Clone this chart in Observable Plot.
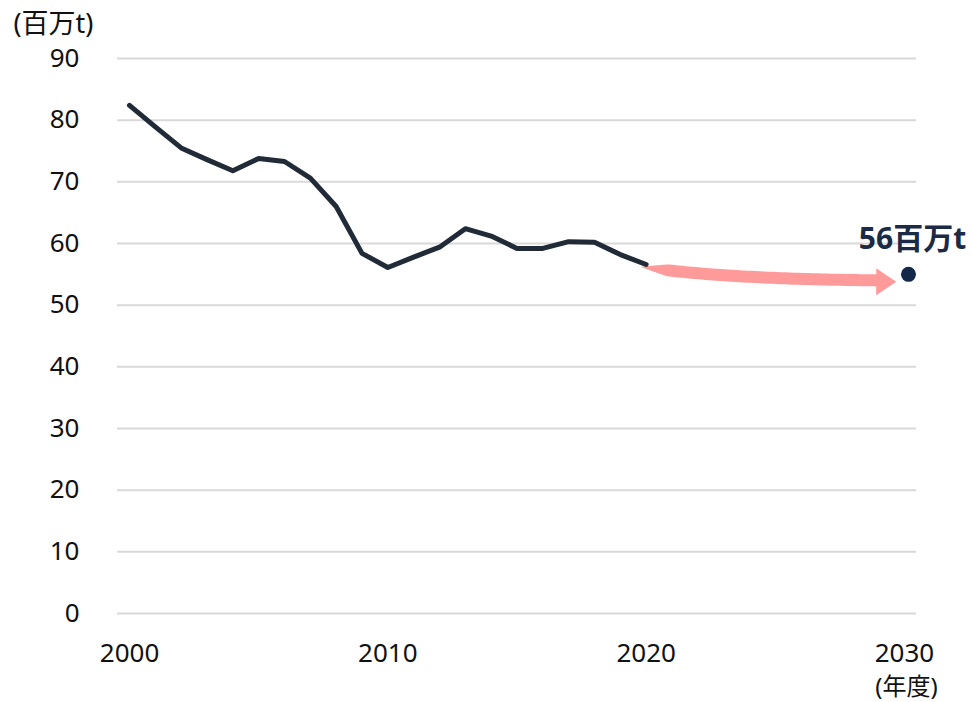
<!DOCTYPE html>
<html>
<head>
<meta charset="utf-8">
<script src="https://cdn.jsdelivr.net/npm/d3@7"></script>
<script src="https://cdn.jsdelivr.net/npm/@observablehq/plot@0.6"></script>
<style>
  html, body { margin: 0; padding: 0; background: #fff; }
  #chart { width: 972px; height: 702px; overflow: hidden; }
</style>
</head>
<body>
<div id="chart"></div>
<script>
// ---- data ----
const years = [2000, 2001, 2002, 2003, 2004, 2005, 2006, 2007, 2008, 2009, 2010,
               2011, 2012, 2013, 2014, 2015, 2016, 2017, 2018, 2019, 2020];
const output = [82.4, 78.9, 75.5, 73.6, 71.8, 73.8, 73.3, 70.6, 66.0, 58.4, 56.1,
                57.8, 59.4, 62.4, 61.2, 59.2, 59.2, 60.3, 60.2, 58.2, 56.6];
const targetYear = [2030];
const targetValue = [55];
const targetLabel = ["56百万t"];
const yTicks = [0, 10, 20, 30, 40, 50, 60, 70, 80, 90];
const xTicks = [2000, 2010, 2020, 2030];
const yUnitLabel = ["(百万t)"];
const xUnitLabel = ["(年度)"];
const arrowFrom = [2019.8, 56.15];   // [year, value]
const arrowTo = [2029.7, 53.7];      // [year, value] (tip)

const series = years.map((y, i) => ({year: y, value: output[i]}));
const target = targetYear.map((y, i) => ({year: y, value: targetValue[i], label: targetLabel[i]}));

const FONT = "'Noto Sans', 'Noto Sans CJK JP', sans-serif";

// tapered curved arrow drawn through the plot's scales
function arrowMark(index, scales) {
  const x = scales.x, y = scales.y;
  const sx = x(arrowFrom[0]), sy = y(arrowFrom[1]);
  const tx = x(arrowTo[0]), ty = y(arrowTo[1]);
  const headLen = 20, headHalf = 13.5, bodyW = 12;
  const bx = tx - headLen, by = ty - 1.5;
  const cx = sx + 0.34 * (bx - sx), cy = by - 1.5;
  const up = [], lo = [];
  const N = 60;
  for (let i = 0; i <= N; i++) {
    const t = i / N, u = 1 - t;
    const px = u * u * sx + 2 * u * t * cx + t * t * bx;
    const py = u * u * sy + 2 * u * t * cy + t * t * by;
    const ddx = 2 * u * (cx - sx) + 2 * t * (bx - cx);
    const ddy = 2 * u * (cy - sy) + 2 * t * (by - cy);
    const len = Math.hypot(ddx, ddy) || 1;
    const nx = ddy / len, ny = -ddx / len;
    const w = bodyW / 2 * Math.min(1, t / 0.16);
    up.push([px + nx * w, py + ny * w]);
    lo.push([px - nx * w, py - ny * w]);
  }
  const p = d3.path();
  p.moveTo(up[0][0], up[0][1]);
  for (const q of up.slice(1)) p.lineTo(q[0], q[1]);
  p.lineTo(bx, ty - headHalf);
  p.lineTo(tx, ty);
  p.lineTo(bx, ty + headHalf);
  for (const q of lo.slice().reverse()) p.lineTo(q[0], q[1]);
  p.closePath();
  const el = document.createElementNS("http://www.w3.org/2000/svg", "path");
  el.setAttribute("d", p.toString());
  el.setAttribute("fill", "#ff9a9a");
  return el;
}

const chart = Plot.plot({
  width: 972,
  height: 702,
  marginTop: 58,
  marginBottom: 89,
  marginLeft: 117,
  marginRight: 56,
  style: {fontFamily: FONT, fontSize: "26px", color: "#111", background: "#fff"},
  x: {
    domain: [1999.535, 2030.465],
    ticks: xTicks,
    tickFormat: d3.format("d"),
    tickSize: 0,
    tickPadding: 30,
    label: null
  },
  y: {
    domain: [0, 90],
    ticks: yTicks,
    tickSize: 0,
    tickPadding: 38,
    label: null
  },
  marks: [
    Plot.ruleY(yTicks, {stroke: "#d9d9d9", strokeWidth: 2}),
    arrowMark,
    Plot.line(series, {x: "year", y: "value", stroke: "#212b38", strokeWidth: 5,
      strokeLinejoin: "round", strokeLinecap: "round"}),
    Plot.dot(target, {x: "year", y: "value", r: 7.5, fill: "#14284a", stroke: "none", dx: 4}),
    Plot.text(target, {x: "year", y: "value", text: "label", dx: 8, dy: -35,
      fill: "#1b2b45", fontWeight: "bold", fontSize: 30, textAnchor: "middle", fontFamily: FONT}),
    Plot.text(yUnitLabel, {frameAnchor: "top-left", text: d => d, dx: -104, dy: -34,
      textAnchor: "start", lineAnchor: "middle", fontSize: 27, fill: "#111", fontFamily: FONT}),
    Plot.text(xUnitLabel, {frameAnchor: "bottom-right", text: d => d, dx: -10, dy: 74,
      textAnchor: "middle", lineAnchor: "middle", fontSize: 24, fill: "#111", fontFamily: FONT})
  ]
});
document.getElementById("chart").appendChild(chart);
</script>
</body>
</html>
